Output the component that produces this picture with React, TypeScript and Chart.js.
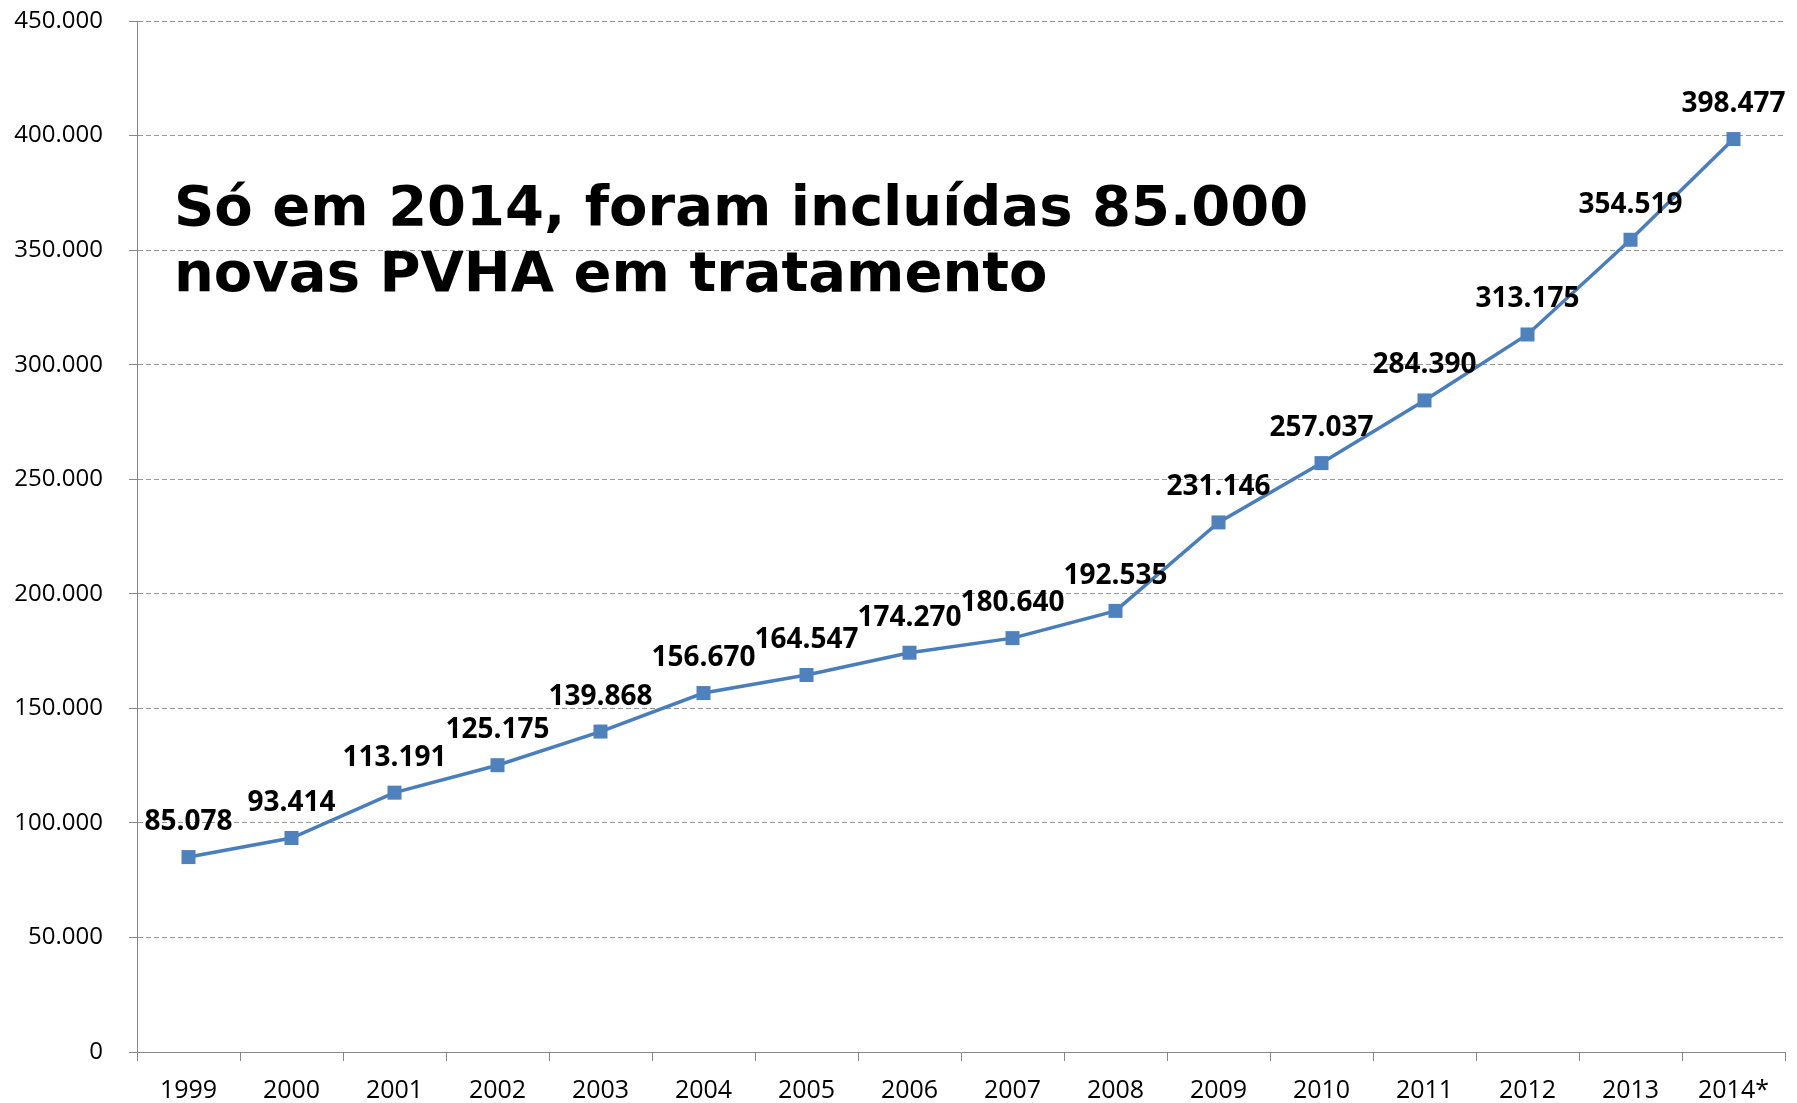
import React, { useEffect, useRef } from "react";
import { Chart, registerables } from "chart.js";

Chart.register(...registerables);

const categories = ["1999", "2000", "2001", "2002", "2003", "2004", "2005", "2006", "2007", "2008", "2009", "2010", "2011", "2012", "2013", "2014*"];
const patients = [85078, 93414, 113191, 125175, 139868, 156670, 164547, 174270, 180640, 192535, 231146, 257037, 284390, 313175, 354519, 398477];
const titleLines = ["Só em 2014, foram incluídas 85.000", "novas PVHA em tratamento"];

const fmt = (n: number) => String(n).replace(/\B(?=(\d{3})+(?!\d))/g, ".");

const labelPlugin = {
  id: "valueLabels",
  afterDatasetsDraw(chart: any) {
    const ctx = chart.ctx;
    const meta = chart.getDatasetMeta(0);
    ctx.save();
    ctx.font = 'bold 28px "Open Sans"';
    ctx.fillStyle = "#000000";
    ctx.textAlign = "center";
    ctx.textBaseline = "alphabetic";
    meta.data.forEach((pt: any, i: number) => {
      ctx.fillText(fmt(patients[i]), pt.x, pt.y - 27);
    });
    ctx.restore();
  },
};

const titlePlugin = {
  id: "innerTitle",
  afterDatasetsDraw(chart: any) {
    const ctx = chart.ctx;
    ctx.save();
    ctx.font = 'bold 56px "DejaVu Sans"';
    ctx.fillStyle = "#000000";
    ctx.textAlign = "left";
    ctx.textBaseline = "alphabetic";
    ctx.fillText(titleLines[0], 174, 225);
    ctx.fillText(titleLines[1], 174, 291);
    ctx.restore();
  },
};

export default function App() {
  const ref = useRef<HTMLCanvasElement>(null);
  useEffect(() => {
    document.body.style.margin = "0";
    const chart = new Chart(ref.current as HTMLCanvasElement, {
      type: "line",
      data: {
        labels: categories,
        datasets: [
          {
            data: patients,
            borderColor: "#4A7EBB",
            borderWidth: 3.5,
            backgroundColor: "#4F81BD",
            pointStyle: "rect",
            pointRadius: 9.9,
            pointBorderWidth: 0,
            pointBackgroundColor: "#4F81BD",
            tension: 0,
          },
        ],
      },
      options: {
        responsive: false,
        animation: false,
        layout: { padding: { left: 0, top: 21, right: 12, bottom: 0 } },
        plugins: { legend: { display: false }, tooltip: { enabled: false }, title: { display: false } },
        scales: {
          x: {
            offset: true,
            grid: { offset: true, drawOnChartArea: false, drawTicks: true, tickLength: 9, color: "#868686" },
            border: { display: true, color: "#868686", width: 1 },
            ticks: { color: "#000000", font: { family: "Open Sans", size: 25 }, padding: 15, maxRotation: 0, autoSkip: false },
            afterFit: (s: any) => {
              s.height = 51;
              s.paddingLeft = 0;
              s.paddingRight = 0;
            },
          },
          y: {
            min: 0,
            max: 450000,
            grid: { color: "#969696", tickColor: "#868686", tickLength: 8, lineWidth: 1 },
            border: { display: true, color: "#868686", width: 1, dash: [5, 3] },
            ticks: {
              stepSize: 50000,
              color: "#000000",
              font: { family: "Open Sans", size: 24 },
              padding: 26,
              callback: (v: any) => fmt(Number(v)),
            },
            afterFit: (s: any) => {
              s.width = 137;
              s.paddingTop = 0;
              s.paddingBottom = 0;
            },
          },
        },
      },
      plugins: [labelPlugin, titlePlugin],
    } as any);
    return () => chart.destroy();
  }, []);
  return (
    <canvas
      ref={ref}
      width={1797}
      height={1103}
      style={{ position: "absolute", left: 0, top: 0, display: "block", width: 1797, height: 1103 }}
    />
  );
}
